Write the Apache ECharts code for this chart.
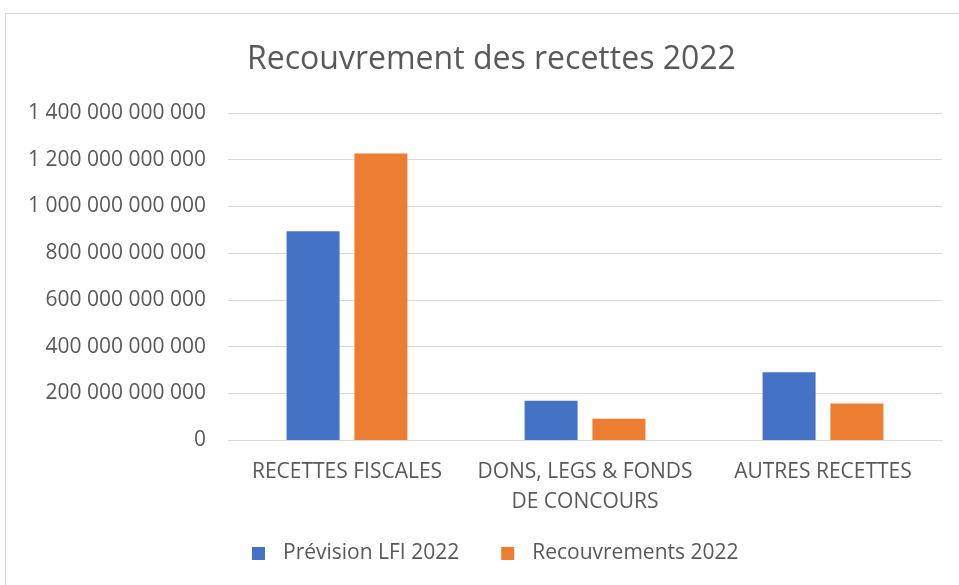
<!DOCTYPE html>
<html>
<head>
<meta charset="utf-8">
<script src="https://cdn.jsdelivr.net/npm/echarts@6/dist/echarts.min.js"></script>
<style>
  html, body { margin: 0; padding: 0; background: #fff; overflow: hidden; }
  .frame {
    position: absolute; left: 5px; top: 13px;
    width: 1000px; height: 1000px;
    border: 1px solid #d9d9d9;
  }
  #chart { position: absolute; left: 0; top: 0; width: 959px; height: 585px; }
</style>
</head>
<body>
<div class="frame"></div>
<div id="chart"></div>
<script>
const categories = ['RECETTES FISCALES', 'DONS, LEGS & FONDS\nDE CONCOURS', 'AUTRES RECETTES']
const prevision = [894000000000, 168000000000, 290000000000]
const recouvrements = [1227000000000, 91000000000, 156000000000]
const seriesNames = ['Prévision LFI 2022', 'Recouvrements 2022']

const font = '"Open Sans", "Liberation Sans", sans-serif'

function fmt (v) {
  return String(v).replace(/\B(?=(\d{3})+(?!\d))/g, ' ')
}

const chart = echarts.init(document.getElementById('chart'))
const option = {
  animation: false,
  color: ['#4472c4', '#ed7d31'],
  title: {
    text: 'Recouvrement des recettes 2022',
    left: 242,
    top: 39,
    textStyle: { fontFamily: font, fontSize: 32, fontWeight: 'normal', color: '#595959' }
  },
  legend: {
    bottom: 16,
    left: 247,
    icon: 'rect',
    itemWidth: 13,
    itemHeight: 13,
    itemGap: 42,
    textStyle: { fontFamily: font, fontSize: 21, color: '#595959', padding: [0, 0, 0, 13] },
    data: seriesNames
  },
  grid: { left: 228, right: 17, top: 113, bottom: 145 },
  xAxis: {
    type: 'category',
    data: categories,
    axisLine: { lineStyle: { color: '#d9d9d9', width: 1 } },
    axisTick: { show: false },
    axisLabel: { fontFamily: font, fontSize: 21, color: '#595959', margin: 17, lineHeight: 30, interval: 0 }
  },
  yAxis: {
    type: 'value',
    min: 0,
    max: 1400000000000,
    interval: 200000000000,
    axisLine: { show: false },
    axisTick: { show: false },
    splitLine: { lineStyle: { color: '#d9d9d9', width: 1 } },
    axisLabel: { fontFamily: font, fontSize: 21, color: '#595959', margin: 22, formatter: fmt }
  },
  series: [
    { name: seriesNames[0], type: 'bar', data: prevision, barWidth: 53, barGap: '28%' },
    { name: seriesNames[1], type: 'bar', data: recouvrements, barWidth: 53, barGap: '28%' }
  ]
}
chart.setOption(option)
window.addEventListener('resize', function () {
  chart.resize()
})
</script>
</body>
</html>
